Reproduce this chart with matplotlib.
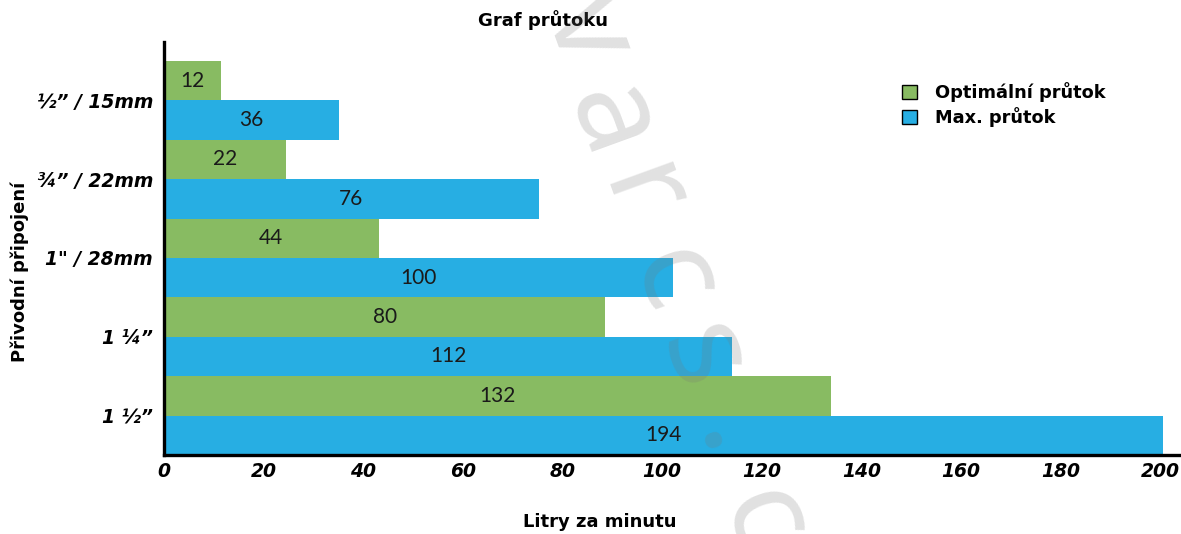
import numpy as np
import matplotlib
matplotlib.use("Agg")
import matplotlib.pyplot as plt
from matplotlib.patches import Patch

# data
sizes = ["½” / 15mm", "¾” / 22mm", "1\" / 28mm", "1 ¼”", "1 ½”"]
opt_labels = [12, 22, 44, 80, 132]
max_labels = [36, 76, 100, 112, 194]
# drawn bar lengths as they appear (not always equal to the printed numbers)
opt_lengths = [11.4, 24.4, 43.1, 88.6, 133.9]
max_lengths = [35.1, 75.2, 102.2, 114.1, 200.6]
x_ticks = [0, 20, 40, 60, 80, 100, 120, 140, 160, 180, 200]

# watermark letters and where they sit (pixels from top-left, baseline anchor)
wm_chars = list("varcs.c")
wm_px = [(556, 41), (578, 133), (607, 207), (639, 292), (669, 370), (701, 450), (729, 533)]

green = "#88bb62"
blue = "#27aee3"

W, H = 1181, 534
fig = plt.figure(figsize=(W / 100, H / 100), dpi=100)
ax = fig.add_axes([164 / W, 1 - 455 / H, (1180 - 164) / W, (455 - 42) / H])

n = len(sizes)
opt_pos = np.arange(n) * 2
max_pos = opt_pos + 1
ax.barh(opt_pos, opt_lengths, height=1.0, color=green, zorder=2)
ax.barh(max_pos, max_lengths, height=1.0, color=blue, zorder=2)

for pos, length, lab in zip(opt_pos, opt_lengths, opt_labels):
    ax.text(length / 2, pos, str(lab), ha="center", va="center",
            fontsize=15, family="Lato", color="#1a1a1a", zorder=3)
for pos, length, lab in zip(max_pos, max_lengths, max_labels):
    ax.text(length / 2, pos, str(lab), ha="center", va="center",
            fontsize=15, family="Lato", color="#1a1a1a", zorder=3)

tick_font = {"family": "DejaVu Sans", "weight": "bold", "style": "italic", "size": 13.5}
ax.set_xlim(0, 204)
ax.set_ylim(9.5, -0.98)
ax.set_xticks(x_ticks)
ax.set_xticklabels([str(t) for t in x_ticks], **tick_font)
ax.set_yticks(opt_pos + 0.5)
ax.set_yticklabels(sizes, **tick_font)
ax.tick_params(axis="both", length=0)
ax.tick_params(axis="x", pad=5)
ax.tick_params(axis="y", pad=8)

for s in ["top", "right"]:
    ax.spines[s].set_visible(False)
for s in ["left", "bottom"]:
    ax.spines[s].set_linewidth(2.4)
    ax.spines[s].set_color("black")
    ax.spines[s].set_zorder(4)

fig.text(543 / W, 1 - 20 / H, "Graf průtoku", ha="center", va="center",
         fontsize=13, fontweight="bold", family="DejaVu Sans")
fig.text(600 / W, 1 - 522 / H, "Litry za minutu", ha="center", va="center",
         fontsize=13, fontweight="bold", family="DejaVu Sans")
fig.text(20 / W, 1 - 272 / H, "Přivodní připojení", ha="center", va="center",
         rotation=90, fontsize=13, fontweight="bold", family="DejaVu Sans")

handles = [Patch(facecolor=green, edgecolor="black", linewidth=1.0),
           Patch(facecolor=blue, edgecolor="black", linewidth=1.0)]
fig.legend(handles, ["Optimální průtok", "Max. průtok"], loc="upper left",
           bbox_to_anchor=(902 / W, 1 - 82 / H), frameon=False,
           prop={"family": "DejaVu Sans", "weight": "bold", "size": 12.8},
           handlelength=0.85, handleheight=0.85, handletextpad=1.0, labelspacing=0.3,
           borderaxespad=0, borderpad=0)

# faint watermark, runs off the top and bottom edges like in the original
for ch, (px, py) in zip(wm_chars, wm_px):
    fig.text(px / W, 1 - py / H, ch, ha="center", va="baseline",
             rotation=-70, rotation_mode="anchor", fontsize=90, family="Noto Sans",
             fontweight=300, color="#777777", alpha=0.22, zorder=10)

fig.savefig("out.png", dpi=100)
